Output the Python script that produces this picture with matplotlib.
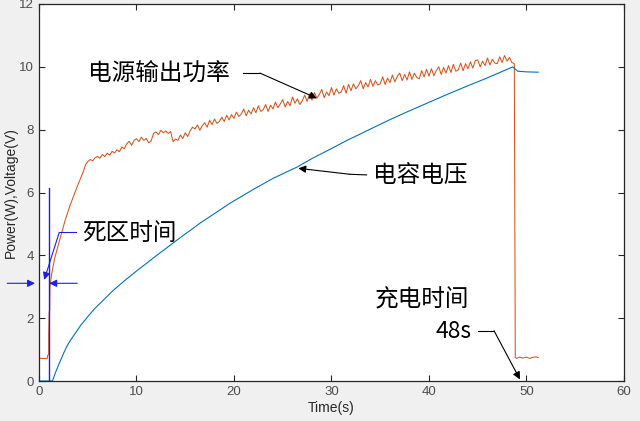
import numpy as np
import matplotlib
matplotlib.use('Agg')
import matplotlib.pyplot as plt

plt.rcParams['font.family'] = ['Liberation Sans', 'DejaVu Sans']
CJK = ['Noto Sans CJK SC', 'DejaVu Sans']

# power output (W): start-up part, read point by point
power_t_start = [0, 0.85, 0.9, 1.0, 1.0, 1.05, 1.1, 1.12, 1.3, 1.6, 2.0, 2.67, 3.2, 3.87, 4.55, 4.8]
power_v_start = [0.72, 0.72, 0.82, 0.84, 1.5, 2.2, 2.25, 3.0, 3.4, 3.9, 4.35, 5.1, 5.6, 6.15, 6.67, 6.9]

# power output, 0.25 s samples from 5.0 s to 48.75 s
power_t_main = np.arange(5.0, 48.76, 0.25)
power_v_main = [
    6.98, 7.05, 7.01, 7.10, 7.15, 7.09, 7.21, 7.14, 7.25, 7.19, 7.31, 7.26,
    7.36, 7.30, 7.45, 7.39, 7.55, 7.63, 7.50, 7.66, 7.71, 7.62, 7.76, 7.66,
    7.72, 7.58, 7.64, 7.88, 7.93, 7.84, 7.98, 7.90, 7.96, 7.88, 7.94, 7.62,
    7.70, 7.66, 7.83, 7.72, 7.90, 7.78, 7.96, 8.08, 8.02, 8.15, 7.98, 8.13,
    8.22, 8.08, 8.30, 8.16, 8.34, 8.20, 8.26, 8.40, 8.26, 8.46, 8.31, 8.48,
    8.36, 8.56, 8.42, 8.50, 8.66, 8.44, 8.62, 8.50, 8.70, 8.54, 8.76, 8.58,
    8.64, 8.80, 8.58, 8.78, 8.66, 8.88, 8.70, 8.82, 8.96, 8.72, 8.90, 8.76,
    9.04, 8.84, 8.98, 8.80, 8.92, 9.10, 8.90, 9.14, 8.94, 9.18, 9.00, 9.12,
    9.28, 9.02, 9.20, 9.08, 9.34, 9.10, 9.30, 9.16, 9.20, 9.40, 9.16, 9.44,
    9.24, 9.46, 9.30, 9.40, 9.56, 9.30, 9.50, 9.36, 9.60, 9.38, 9.56, 9.42,
    9.46, 9.68, 9.44, 9.64, 9.50, 9.74, 9.52, 9.70, 9.80, 9.56, 9.76, 9.58,
    9.84, 9.60, 9.80, 9.66, 9.62, 9.88, 9.68, 9.92, 9.70, 9.94, 9.72, 9.88,
    10.00, 9.76, 9.98, 9.80, 10.04, 9.82, 10.08, 9.86, 9.90, 10.12, 9.88, 10.10,
    9.94, 10.16, 9.96, 10.20, 10.22, 10.00, 10.18, 10.04, 10.28, 10.06, 10.24, 10.12,
    10.10, 10.32, 10.14, 10.36, 10.18, 10.30, 10.14, 10.10,
]

# power after the charger switches off
power_t_end = [48.85, 49.0, 49.3, 49.6, 50.0, 50.3, 50.6, 51.0, 51.2]
power_v_end = [0.75, 0.72, 0.76, 0.73, 0.76, 0.72, 0.75, 0.77, 0.74]

# capacitor voltage (V)
cap_t = [0, 1.35, 1.4, 1.6, 1.8, 2.05, 2.3, 2.55, 2.84, 3.15, 3.5, 3.9, 4.3, 4.75, 5.2, 5.7,
         6.26, 7.5, 8.8, 10, 12, 14, 16.5, 19.6, 22, 24, 26.4, 28, 30, 31.6, 34, 36, 38, 40,
         42, 44, 46, 48.6, 49.1, 50, 51.2]
cap_v = [0, 0, 0.02, 0.19, 0.35, 0.54, 0.72, 0.9, 1.09, 1.26, 1.42, 1.6, 1.78, 1.95, 2.12, 2.3,
         2.47, 2.85, 3.2, 3.5, 3.98, 4.45, 5.02, 5.66, 6.1, 6.45, 6.8, 7.08, 7.4, 7.66, 8.02,
         8.32, 8.6, 8.87, 9.14, 9.4, 9.65, 10.0, 9.86, 9.84, 9.83]

power_t = list(power_t_start) + list(power_t_main) + list(power_t_end)
power_v = list(power_v_start) + list(power_v_main) + list(power_v_end)

fig = plt.figure(figsize=(6.4, 4.21), dpi=100, facecolor='#f0f0f0')
ax = fig.add_axes([0.0609, 0.095, 0.9141, 0.8955])
ax.set_facecolor('white')

ax.plot(power_t, power_v, color='#D95319', lw=0.75)
ax.plot(cap_t, cap_v, color='#0072BD', lw=0.8)

ax.set_xlim(0, 60)
ax.set_ylim(0, 12)
ax.set_xticks(range(0, 61, 10))
ax.set_yticks(range(0, 13, 2))
ax.tick_params(direction='in', top=True, right=True, length=4, width=0.8,
               labelsize=9.5, color='#262626', labelcolor='#4d4d4d')
for s in ax.spines.values():
    s.set_color('#262626')
    s.set_linewidth(0.9)
ax.set_xlabel('Time(s)', fontsize=10, color='#262626', labelpad=2)
ax.set_ylabel('Power(W),Voltage(V)', fontsize=10, color='#262626', labelpad=1)

blue = '#1f1fe0'
arr = dict(arrowstyle='-|>', mutation_scale=11, lw=0.8, shrinkA=0, shrinkB=0)

# 电源输出功率
ax.text(5.03, 9.75, '电源输出功率', family=CJK, fontsize=17, va='center', ha='left')
ax.plot([20.95, 22.67], [9.8, 9.8], color='black', lw=0.8)
ax.annotate('', xy=(28.5, 9.0), xytext=(22.67, 9.8), arrowprops=dict(arr, color='black'))

# 电容电压
ax.text(34.26, 6.53, '电容电压', family=CJK, fontsize=17, va='center', ha='left')
ax.plot([33.6, 31.9], [6.56, 6.58], color='black', lw=0.8)
ax.annotate('', xy=(26.6, 6.77), xytext=(31.9, 6.58), arrowprops=dict(arr, color='black'))

# 死区时间
ax.text(4.38, 4.70, '死区时间', family=CJK, fontsize=17, va='center', ha='left')
ax.plot([3.79, 2.08], [4.73, 4.73], color=blue, lw=0.8)
ax.annotate('', xy=(0.54, 3.22), xytext=(2.08, 4.73), arrowprops=dict(arr, color=blue))
ax.plot([1.0, 1.0], [0, 6.15], color=blue, lw=1.0)
ax.annotate('', xy=(-0.41, 3.11), xytext=(-3.25, 3.11), annotation_clip=False,
            arrowprops=dict(arr, color=blue))
ax.annotate('', xy=(1.06, 3.11), xytext=(3.93, 3.11), annotation_clip=False,
            arrowprops=dict(arr, color=blue))

# 充电时间
ax.text(34.46, 2.58, '充电时间', family=CJK, fontsize=17, va='center', ha='left')
ax.text(44.38, 1.57, '48s', family=CJK, fontsize=16.5, va='center', ha='right')
ax.plot([45.06, 46.67], [1.6, 1.6], color='black', lw=0.8)
ax.annotate('', xy=(49.33, 0.05), xytext=(46.67, 1.6), arrowprops=dict(arr, color='black'))

fig.savefig('out.png', dpi=100, facecolor=fig.get_facecolor())
